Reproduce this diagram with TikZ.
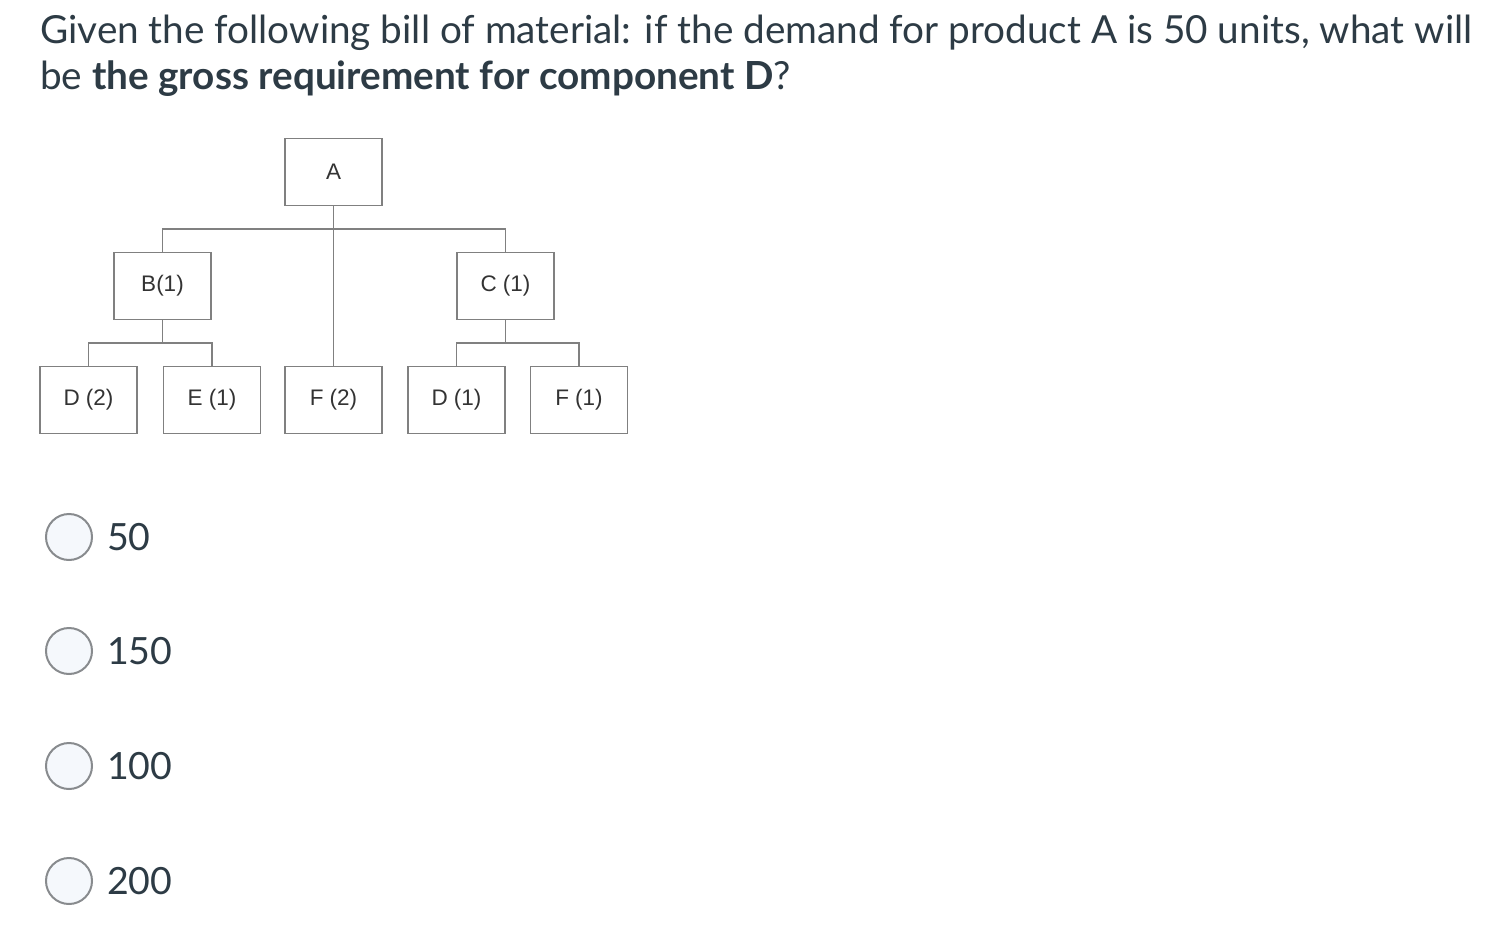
\documentclass[tikz,border=0pt]{standalone}
\usepackage{fontspec}
\setmainfont{Lato}
\newfontfamily\arialf{Liberation Sans}
\definecolor{qtext}{HTML}{2D3B45}
\definecolor{linegray}{HTML}{808080}
\definecolor{bomtext}{HTML}{333333}
\definecolor{radiogray}{HTML}{888B8E}
\definecolor{radiofill}{HTML}{F5F8FC}
\begin{document}
\begin{tikzpicture}[x=1pt,y=-1pt,
  bom/.style={draw=linegray, line width=1.7pt, minimum width=97pt, minimum height=67pt, inner sep=0pt, font=\arialf\fontsize{22.5}{22.5}\selectfont, text=bomtext},
  conn/.style={draw=linegray, line width=1.7pt},
  radio/.style={circle, draw=radiogray, fill=radiofill, line width=2pt, minimum size=46pt, inner sep=0pt},
  opt/.style={anchor=west, inner sep=0pt, font=\fontsize{37.5}{37.5}\selectfont, text=qtext},
  qline/.style={anchor=base west, inner sep=0pt, font=\fontsize{38.7}{38.7}\selectfont, text=qtext}]
\useasboundingbox[fill=white] (0,0) rectangle (1512,952);
% question
\node[qline] (t1) at (40,44) {Given the following bill of material: if the demand for product A is 50 units, what will};
\node[qline] (t2) at (40,90) {be \textbf{the gross requirement for component D}?};
% bill of material
\node[bom] (A) at (333.5,172) {A};
\node[bom] (B) at (162.5,286) {B(1)};
\node[bom] (C) at (505.5,286) {C (1)};
\node[bom] (D2) at (88.5,400) {D (2)};
\node[bom] (E1) at (212,400) {E (1)};
\node[bom] (F2) at (333.5,400) {F (2)};
\node[bom] (D1) at (456.5,400) {D (1)};
\node[bom] (F1) at (579,400) {F (1)};
\coordinate (topj) at (333.5,229);
\coordinate (bj) at (162.5,343);
\coordinate (cj) at (505.5,343);
\draw[conn] (A.south) -- (F2.north);
\draw[conn] (B.north) |- (C.north |- topj) -- (C.north);
\draw[conn] (B.south) -- (bj);
\draw[conn] (D2.north) |- (E1.north |- bj) -- (E1.north);
\draw[conn] (C.south) -- (cj);
\draw[conn] (D1.north) |- (F1.north |- cj) -- (F1.north);
% options
\node[radio] (r1) at (69,537) {};
\node[radio] (r2) at (69,651) {};
\node[radio] (r3) at (69,766) {};
\node[radio] (r4) at (69,881) {};
\node[opt] (o1) at (107,537) {50};
\node[opt] (o2) at (107,651) {150};
\node[opt] (o3) at (107,766) {100};
\node[opt] (o4) at (107,881) {200};
\end{tikzpicture}
\end{document}
